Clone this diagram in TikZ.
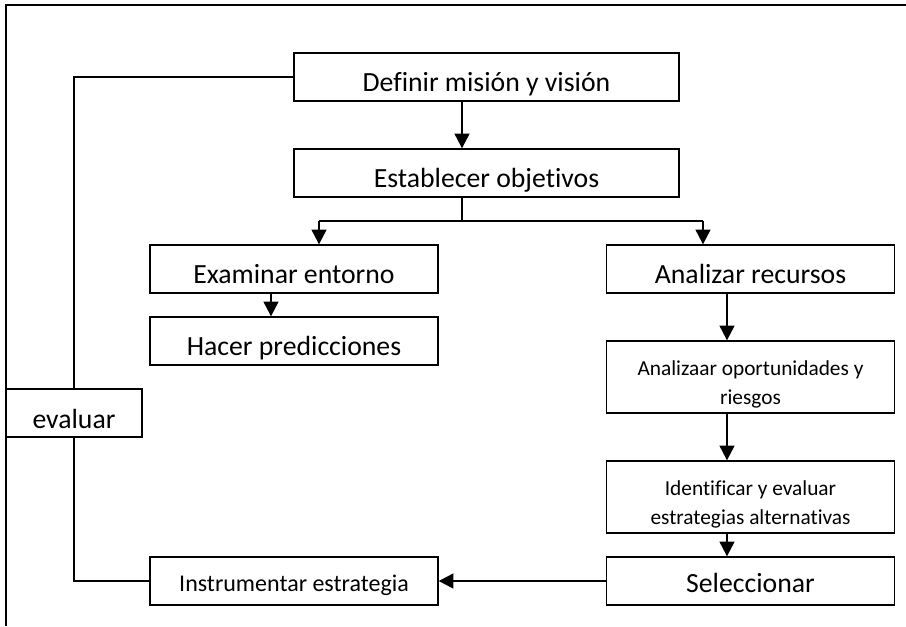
\documentclass[tikz,border=0pt]{standalone}
\usepackage{fontspec}
\setmainfont{Carlito}[Ligatures={NoCommon,NoRequired,NoContextual}]
\usetikzlibrary{arrows.meta}

\begin{document}
\begin{tikzpicture}[x=0.75pt,y=-0.75pt,
	box/.style={draw, line width=1pt, inner sep=2pt, minimum height=48*0.75pt},
	wide/.style={box, minimum width=385*0.75pt},
	col/.style={box, minimum width=288*0.75pt},
	big/.style={font=\fontsize{20.8}{25}\selectfont, text height=22pt, text depth=0pt},
	mid/.style={font=\fontsize{18}{21}\selectfont, text height=15pt, text depth=0pt},
	small/.style={font=\fontsize{16}{21.75}\selectfont, align=center, minimum height=72*0.75pt, text height=41pt, text depth=0pt},
	line/.style={line width=0.9pt},
	arrow/.style={line width=1.6pt, -{Triangle[width=11pt,length=11pt]}}]
	\useasboundingbox (0,0) rectangle (906,626);
	\draw[line width=1pt] (6,626) -- (6,5) -- (906,5);
	\node[wide, big] (definir) at (486.5,77) {Definir misión y visión};
	\node[wide, big] (establecer) at (486.5,173) {Establecer objetivos};
	\node[col, big] (examinar) at (294,269) {Examinar entorno};
	\node[col, big] (hacer) at (294,341) {Hacer predicciones};
	\node[col, big] (analizar) at (750.5,269) {Analizar recursos};
	\node[col, small] (oportunidades) at (750.5,377) {Analizaar oportunidades y\\riesgos};
	\node[col, small] (identificar) at (750.5,497) {Identificar y evaluar\\estrategias alternativas};
	\node[col, big, text height=16.5pt] (seleccionar) at (750.5,581) {Seleccionar};
	\node[col, mid] (instrumentar) at (294,581) {Instrumentar estrategia};
	\node[box, big, text height=23pt, minimum width=136*0.75pt] (evaluar) at (74,413) {evaluar};
	\coordinate (tronco) at (462,221);
	\coordinate (ramaizq) at (319,221);
	\coordinate (ramader) at (703,221);
	\coordinate (ejeizq) at (271,0);
	\coordinate (ejeder) at (727,0);
	\draw[arrow] (definir.south -| tronco) -- (establecer.north -| tronco);
	\draw[line] (establecer.south -| tronco) -- (tronco);
	\draw[line width=1.4pt] (ramaizq) -- (ramader);
	\draw[arrow] (ramaizq) -- (examinar.north -| ramaizq);
	\draw[arrow] (ramader) -- (analizar.north -| ramader);
	\draw[arrow] (examinar.south -| ejeizq) -- (hacer.north -| ejeizq);
	\draw[arrow] (analizar.south -| ejeder) -- (oportunidades.north -| ejeder);
	\draw[arrow] (oportunidades.south -| ejeder) -- (identificar.north -| ejeder);
	\draw[arrow] (identificar.south -| ejeder) -- (seleccionar.north -| ejeder);
	\draw[arrow] (seleccionar.west) -- (instrumentar.east);
	\draw[line] (definir.west) -| (evaluar.north);
	\draw[line] (evaluar.south) |- (instrumentar.west);
\end{tikzpicture}
\end{document}
